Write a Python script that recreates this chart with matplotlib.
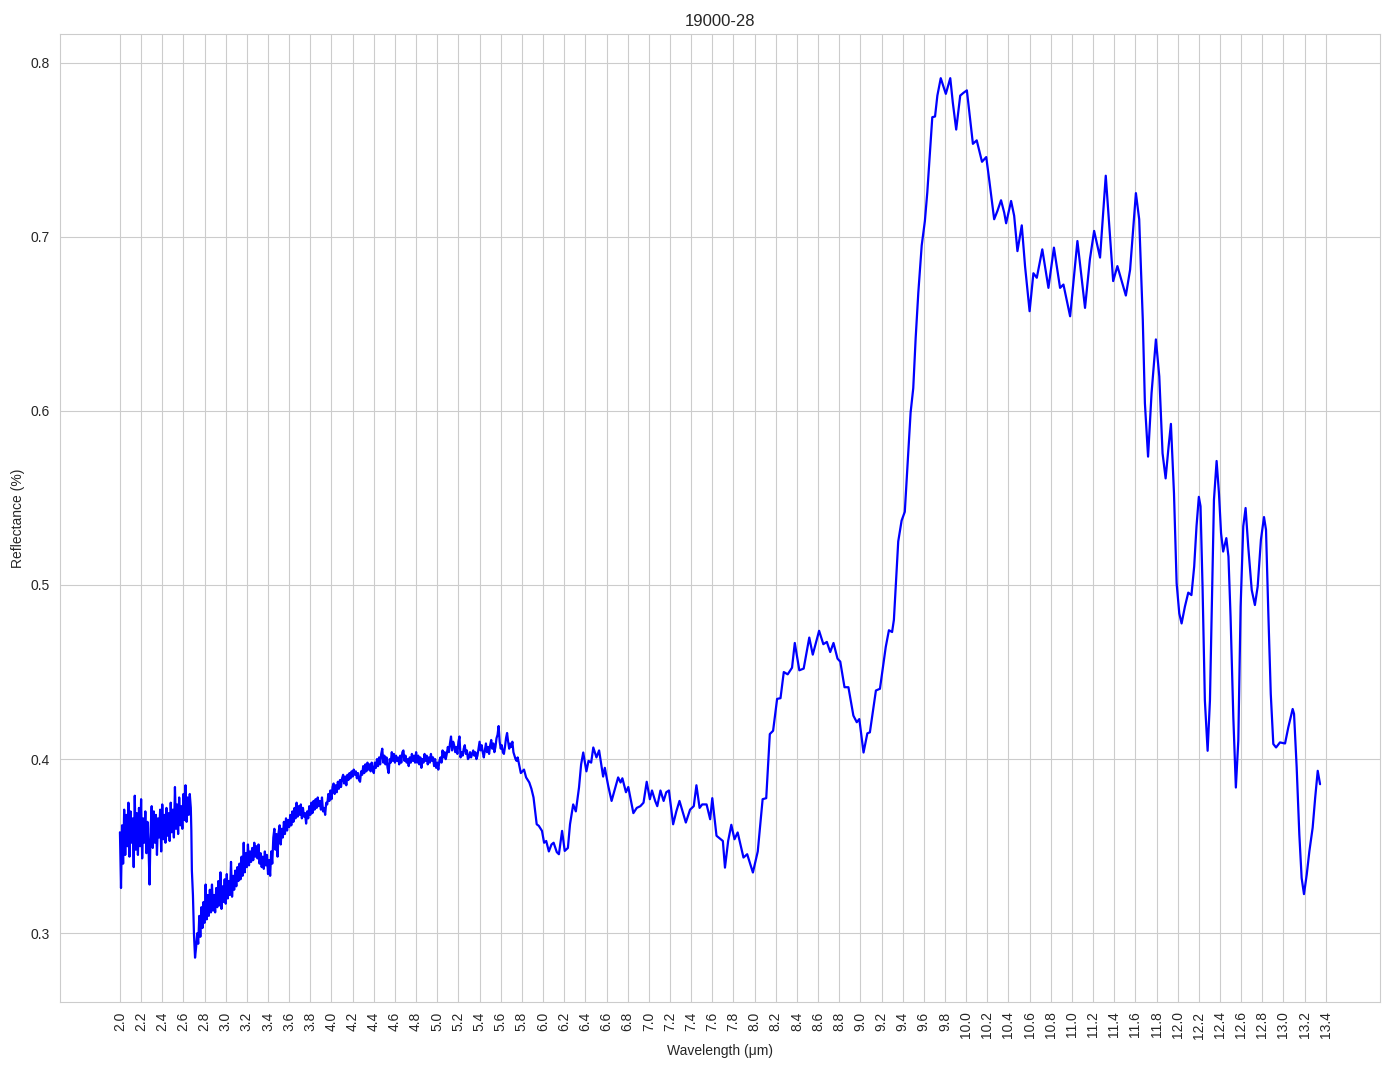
import numpy as np
import matplotlib
matplotlib.use("Agg")
import matplotlib.pyplot as plt
import seaborn as sns

title = "19000-28"

# noisy part sampled every 0.01 um, starting at 2.00
start_a = 2.00
refl_a = [0.358, 0.326, 0.362, 0.340, 0.371, 0.345, 0.368, 0.350, 0.375, 0.344,
          0.370, 0.352, 0.366, 0.338, 0.379, 0.348, 0.369, 0.345, 0.372, 0.350,
          0.377, 0.343, 0.366, 0.352, 0.370, 0.346, 0.364, 0.350, 0.328, 0.360,
          0.373, 0.349, 0.370, 0.352, 0.368, 0.345, 0.366, 0.355, 0.371, 0.347,
          0.374, 0.354, 0.368, 0.352, 0.372, 0.356, 0.369, 0.353, 0.375, 0.358,
          0.371, 0.355, 0.384, 0.360, 0.374, 0.357, 0.378, 0.362, 0.373, 0.360,
          0.380, 0.365, 0.385, 0.364, 0.378, 0.368, 0.380, 0.372]

# the sharp drop near 2.7 um
drop_wl = [2.675, 2.68, 2.69, 2.70, 2.71]
drop_refl = [0.359, 0.336, 0.322, 0.299, 0.286]

# noisy rise, every 0.01 um from 2.72 to 4.80
start_b = 2.72
refl_b = [0.292, 0.300, 0.294, 0.310, 0.298, 0.315, 0.303, 0.318, 0.306, 0.328,
          0.308, 0.322, 0.310, 0.325, 0.312, 0.328, 0.313, 0.322, 0.312, 0.326,
          0.315, 0.330, 0.316, 0.335, 0.314, 0.327, 0.318, 0.331, 0.317, 0.334,
          0.320, 0.330, 0.322, 0.341, 0.321, 0.333, 0.325, 0.336, 0.327, 0.338,
          0.330, 0.340, 0.331, 0.344, 0.333, 0.352, 0.335, 0.346, 0.338, 0.351,
          0.339, 0.347, 0.341, 0.349, 0.342, 0.352, 0.344, 0.350, 0.343, 0.351,
          0.340, 0.346, 0.338, 0.344, 0.337, 0.347, 0.339, 0.345, 0.334, 0.342,
          0.333, 0.347, 0.340, 0.355, 0.360, 0.348, 0.357, 0.344, 0.358, 0.362,
          0.351, 0.360, 0.355, 0.364, 0.357, 0.366, 0.359, 0.365, 0.361, 0.368,
          0.362, 0.370, 0.364, 0.372, 0.366, 0.375, 0.367, 0.373, 0.368, 0.374,
          0.366, 0.372, 0.367, 0.369, 0.363, 0.370, 0.366, 0.373, 0.368, 0.375,
          0.369, 0.376, 0.371, 0.377, 0.372, 0.378, 0.373, 0.376, 0.371, 0.378,
          0.370, 0.372, 0.368, 0.375, 0.374, 0.380, 0.376, 0.382, 0.377, 0.384,
          0.386, 0.380, 0.385, 0.381, 0.387, 0.383, 0.388, 0.384, 0.389, 0.391,
          0.386, 0.390, 0.385, 0.391, 0.388, 0.392, 0.389, 0.393, 0.390, 0.394,
          0.391, 0.393, 0.389, 0.392, 0.388, 0.387, 0.393, 0.391, 0.396, 0.392,
          0.397, 0.393, 0.398, 0.394, 0.397, 0.393, 0.398, 0.394, 0.392, 0.398,
          0.395, 0.400, 0.396, 0.401, 0.397, 0.403, 0.406, 0.398, 0.402, 0.397,
          0.401, 0.395, 0.392, 0.400, 0.398, 0.404, 0.399, 0.403, 0.398, 0.402,
          0.399, 0.401, 0.397, 0.402, 0.398, 0.404, 0.405, 0.399, 0.402, 0.398,
          0.400, 0.396, 0.401, 0.398, 0.403, 0.399, 0.402, 0.398, 0.404]

# plateau, every 0.01 um from 4.81 to 5.79
start_c = 4.81
refl_c = [0.398, 0.402, 0.397, 0.401, 0.395, 0.400, 0.398, 0.403, 0.399, 0.402,
          0.397, 0.401, 0.398, 0.403, 0.399, 0.401, 0.396, 0.400, 0.395, 0.398,
          0.394, 0.399, 0.401, 0.398, 0.405, 0.401, 0.404, 0.400, 0.403, 0.407,
          0.404, 0.409, 0.413, 0.405, 0.410, 0.408, 0.404, 0.407, 0.403, 0.410,
          0.413, 0.401, 0.404, 0.402, 0.406, 0.408, 0.403, 0.405, 0.400, 0.401,
          0.404, 0.401, 0.403, 0.405, 0.402, 0.404, 0.400, 0.402, 0.406, 0.410,
          0.405, 0.408, 0.404, 0.401, 0.405, 0.409, 0.404, 0.407, 0.403, 0.408,
          0.411, 0.406, 0.409, 0.404, 0.407, 0.412, 0.414, 0.419, 0.410, 0.406,
          0.408, 0.404, 0.403, 0.407, 0.412, 0.415, 0.410, 0.406, 0.409, 0.407,
          0.410, 0.404, 0.402, 0.400, 0.399, 0.401, 0.398, 0.395, 0.392]

# smoother part of the spectrum
smooth_wl = [5.82, 5.84, 5.87, 5.89, 5.91, 5.94, 5.96, 5.99, 6.01, 6.03,
             6.055, 6.08, 6.10, 6.13, 6.15, 6.18, 6.205, 6.235, 6.255, 6.285,
             6.31, 6.34, 6.36, 6.38, 6.41, 6.43, 6.455, 6.475, 6.505, 6.53,
             6.568, 6.584, 6.616, 6.648, 6.68, 6.71, 6.733, 6.75, 6.784, 6.806,
             6.854, 6.886, 6.92, 6.95, 6.98, 7.01, 7.03, 7.06, 7.08, 7.11,
             7.14, 7.165, 7.19, 7.23, 7.26, 7.29, 7.35, 7.39, 7.425, 7.45,
             7.48, 7.505, 7.546, 7.58, 7.60, 7.64, 7.68, 7.70, 7.72, 7.75,
             7.78, 7.81, 7.84, 7.895, 7.93, 7.984, 8.03, 8.076, 8.11, 8.144,
             8.175, 8.213, 8.245, 8.276, 8.313, 8.354, 8.38, 8.423, 8.464, 8.517,
             8.55, 8.61, 8.65, 8.683, 8.715, 8.746, 8.784, 8.81, 8.85, 8.887,
             8.934, 8.966, 8.99, 9.03, 9.066, 9.09, 9.147, 9.185, 9.24, 9.27,
             9.30, 9.317, 9.358, 9.39, 9.42, 9.453, 9.475, 9.50, 9.523, 9.548,
             9.58, 9.61, 9.633, 9.66, 9.68, 9.706, 9.728, 9.76, 9.808, 9.85,
             9.874, 9.906, 9.944, 9.975, 10.007, 10.032, 10.064, 10.10, 10.15, 10.19,
             10.22, 10.265, 10.296, 10.33, 10.36, 10.378, 10.425, 10.454, 10.485, 10.526,
             10.557, 10.60, 10.636, 10.668, 10.72, 10.778, 10.83, 10.888, 10.92, 10.983,
             11.052, 11.124, 11.17, 11.21, 11.266, 11.32, 11.39, 11.43, 11.51, 11.55,
             11.605, 11.636, 11.67, 11.69, 11.72, 11.753, 11.794, 11.826, 11.857, 11.886,
             11.914, 11.936, 11.965, 11.99, 12.015, 12.037, 12.068, 12.10, 12.13, 12.156,
             12.178, 12.20, 12.216, 12.235, 12.257, 12.283, 12.305, 12.324, 12.343, 12.368,
             12.39, 12.41, 12.43, 12.46, 12.48, 12.50, 12.526, 12.55, 12.573, 12.595,
             12.62, 12.642, 12.667, 12.70, 12.73, 12.756, 12.787, 12.816, 12.835, 12.857,
             12.88, 12.904, 12.93, 12.967, 13.015, 13.046, 13.087, 13.10, 13.125, 13.15,
             13.172, 13.194, 13.22, 13.245, 13.276, 13.30, 13.324, 13.346]
smooth_refl = [0.394, 0.3895, 0.3866, 0.383, 0.378, 0.3626, 0.3617, 0.3588, 0.352, 0.353,
               0.347, 0.351, 0.352, 0.3466, 0.3454, 0.3588, 0.3473, 0.349, 0.3626, 0.374,
               0.370, 0.3837, 0.397, 0.4038, 0.393, 0.399, 0.398, 0.4067, 0.401, 0.405,
               0.390, 0.395, 0.3847, 0.376, 0.383, 0.3895, 0.3866, 0.389, 0.381, 0.384,
               0.369, 0.372, 0.373, 0.375, 0.387, 0.377, 0.382, 0.376, 0.373, 0.382,
               0.376, 0.381, 0.382, 0.3626, 0.370, 0.376, 0.3636, 0.371, 0.373, 0.385,
               0.372, 0.374, 0.374, 0.3655, 0.3776, 0.356, 0.354, 0.353, 0.3377, 0.353,
               0.3623, 0.354, 0.3579, 0.3435, 0.3454, 0.3349, 0.347, 0.377, 0.3776, 0.4144,
               0.4163, 0.4346, 0.435, 0.450, 0.4487, 0.4525, 0.4667, 0.451, 0.452, 0.4698,
               0.460, 0.4737, 0.466, 0.4673, 0.4615, 0.4667, 0.4577, 0.456, 0.4413, 0.4413,
               0.425, 0.4212, 0.423, 0.4038, 0.4148, 0.4154, 0.4394, 0.4404, 0.4644, 0.474,
               0.473, 0.480, 0.525, 0.537, 0.542, 0.576, 0.599, 0.613, 0.642, 0.668,
               0.695, 0.709, 0.7256, 0.750, 0.7686, 0.769, 0.781, 0.791, 0.782, 0.791,
               0.777, 0.7615, 0.781, 0.7826, 0.784, 0.7707, 0.7533, 0.7553, 0.743, 0.7457,
               0.7318, 0.710, 0.7148, 0.7209, 0.7138, 0.7077, 0.7205, 0.712, 0.6917, 0.7065,
               0.683, 0.6572, 0.679, 0.6764, 0.6927, 0.6706, 0.6937, 0.6706, 0.6725, 0.6543,
               0.6975, 0.6591, 0.687, 0.7033, 0.688, 0.735, 0.6745, 0.6831, 0.6662, 0.681,
               0.725, 0.710, 0.6524, 0.6044, 0.5737, 0.6102, 0.641, 0.6198, 0.5756, 0.5612,
               0.5795, 0.5925, 0.5526, 0.501, 0.4837, 0.4779, 0.4875, 0.4956, 0.4942, 0.5106,
               0.5337, 0.5506, 0.5452, 0.499, 0.4337, 0.4048, 0.4337, 0.4913, 0.549, 0.5712,
               0.5529, 0.5298, 0.5192, 0.5269, 0.5163, 0.4817, 0.424, 0.3837, 0.4106, 0.4875,
               0.5337, 0.5442, 0.5221, 0.4971, 0.4885, 0.499, 0.526, 0.539, 0.5317, 0.4837,
               0.4375, 0.4087, 0.4067, 0.4096, 0.409, 0.4183, 0.4288, 0.426, 0.3952, 0.3567,
               0.3317, 0.3225, 0.3337, 0.3471, 0.3606, 0.3779, 0.3933, 0.3856]

xtick_values = np.round(np.arange(2.0, 13.41, 0.2), 1)


def sampled(start, values):
    return list(np.round(start + 0.01 * np.arange(len(values)), 2))


wavelength = (sampled(start_a, refl_a) + drop_wl + sampled(start_b, refl_b)
              + sampled(start_c, refl_c) + smooth_wl)
reflectance = refl_a + drop_refl + refl_b + refl_c + smooth_refl

sns.set_style("whitegrid")
plt.rcParams['font.family'] = ['Liberation Sans', 'DejaVu Sans']

fig, ax = plt.subplots(figsize=(13.94, 10.69), dpi=100)
fig.subplots_adjust(left=0.043, right=0.99, top=0.968, bottom=0.063)

ax.plot(wavelength, reflectance, color='blue', linewidth=1.6)

ax.set_xticks(xtick_values)
ax.set_xticklabels([f"{t:.1f}" for t in xtick_values], rotation=90, fontsize=10)
ax.tick_params(axis='y', labelsize=10)
ax.set_xlabel("Wavelength (μm)", fontsize=10)
ax.set_ylabel("Reflectance (%)", fontsize=10)
ax.set_title(title, fontsize=12)

fig.savefig("out.png", dpi=100)
